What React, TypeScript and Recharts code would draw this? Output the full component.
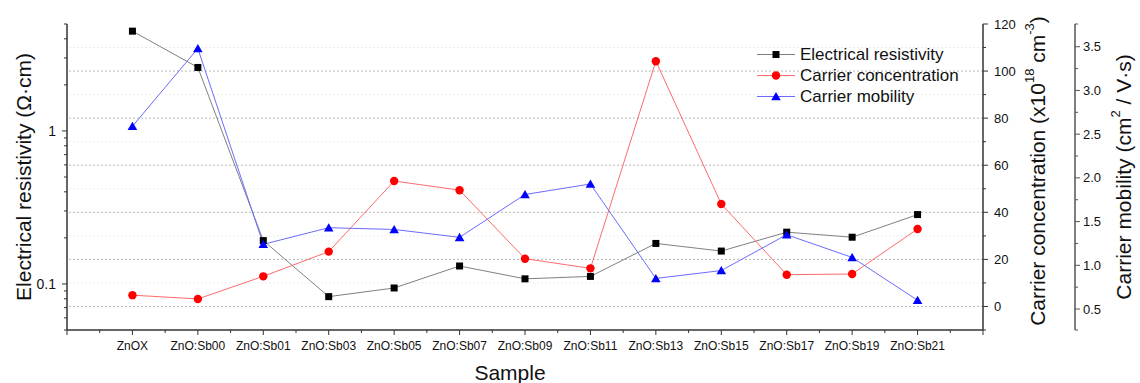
import React from 'react';
import { LineChart, Line, XAxis, YAxis, ReferenceLine, Legend } from 'recharts';

const SAMPLES = [
  'ZnOX', 'ZnO:Sb00', 'ZnO:Sb01', 'ZnO:Sb03', 'ZnO:Sb05', 'ZnO:Sb07', 'ZnO:Sb09',
  'ZnO:Sb11', 'ZnO:Sb13', 'ZnO:Sb15', 'ZnO:Sb17', 'ZnO:Sb19', 'ZnO:Sb21',
];
// resistivity in Ω·cm, concentration in 1e18 cm^-3, mobility in cm²/V·s
const RESISTIVITY = [4.49, 2.6, 0.192, 0.0826, 0.0941, 0.131, 0.108, 0.112, 0.184, 0.164, 0.218, 0.202, 0.284];
const CONCENTRATION = [4.8, 3.2, 12.8, 23.3, 53.3, 49.4, 20.3, 16.2, 104.2, 43.5, 13.5, 13.8, 32.9];
const MOBILITY = [2.59, 3.48, 1.24, 1.43, 1.41, 1.32, 1.81, 1.93, 0.85, 0.94, 1.35, 1.09, 0.6];

const RHO_TICKS = [0.05, 0.06, 0.07, 0.08, 0.09, 0.1, 0.2, 0.3, 0.4, 0.5, 0.6, 0.7, 0.8, 0.9, 1, 2, 3, 4, 5];
const RHO_LABELS = [0.1, 1];
const CONC_TICKS = [-10, 0, 10, 20, 30, 40, 50, 60, 70, 80, 90, 100, 110, 120];
const CONC_LABELS = [0, 20, 40, 60, 80, 100, 120];
const MOB_TICKS = [0.26, 0.5, 0.75, 1, 1.25, 1.5, 1.75, 2, 2.25, 2.5, 2.75, 3, 3.25, 3.5, 3.76];
const MOB_LABELS = [0.5, 1, 1.5, 2, 2.5, 3, 3.5];
const GRID_MAJOR = [0, 20, 40, 60, 80, 100];
const GRID_MINOR = [10, 30, 50, 70, 90, 110];

const FONT = 'Arial, "Liberation Sans", sans-serif';
const AXIS = '#333';

const SERIES = [
  { name: 'Electrical resistivity', key: 'rho', axis: 'rho', shape: 'square', mark: '#000000', line: '#808080' },
  { name: 'Carrier concentration', key: 'conc', axis: 'conc', shape: 'circle', mark: '#ff0000', line: '#ff6b6b' },
  { name: 'Carrier mobility', key: 'mob', axis: 'mob', shape: 'triangle', mark: '#0000ff', line: '#6b6bff' },
];

const data = SAMPLES.map((name, i) => ({
  idx: i,
  name,
  rho: RESISTIVITY[i],
  conc: CONCENTRATION[i],
  mob: MOBILITY[i],
}));

// half-category ticks along the sample axis, one empty slot at each end
const X_TICKS: number[] = [];
for (let t = -1; t <= SAMPLES.length; t += 0.5) X_TICKS.push(t);

const Marker = ({ shape, cx, cy, color }: { shape: string; cx: number; cy: number; color: string }) => {
  if (shape === 'square') return <rect x={cx - 3.5} y={cy - 3.5} width={7} height={7} fill={color} />;
  if (shape === 'circle') return <circle cx={cx} cy={cy} r={4.2} fill={color} />;
  return <polygon points={`${cx},${cy - 4.5} ${cx - 4.8},${cy + 3.8} ${cx + 4.8},${cy + 3.8}`} fill={color} />;
};

const SampleTick = ({ x, y, payload }: any) => {
  const v = payload.value;
  const major = Number.isInteger(v);
  const name = major ? SAMPLES[v] : undefined;
  return (
    <g>
      <line x1={x} x2={x} y1={y} y2={y + (major ? 5 : 3)} stroke={AXIS} strokeWidth={1} />
      {name && (
        <text x={x} y={y + 16} textAnchor="middle" dominantBaseline="central" fontSize={12} fontFamily={FONT} fill="#111">
          {name}
        </text>
      )}
    </g>
  );
};

const RhoTick = ({ x, y, payload }: any) => {
  const v = payload.value;
  const major = RHO_LABELS.includes(v);
  return (
    <g>
      <line x1={x} x2={x - (major ? 5 : 3)} y1={y} y2={y} stroke={AXIS} strokeWidth={1} />
      {major && (
        <text x={x - 11} y={y} textAnchor="end" dominantBaseline="central" fontSize={14} fontFamily={FONT} fill="#111">
          {String(v)}
        </text>
      )}
    </g>
  );
};

const ConcTick = ({ x, y, payload }: any) => {
  const v = payload.value;
  const major = CONC_LABELS.includes(v);
  return (
    <g>
      <line x1={x} x2={x + (major ? 5 : 3)} y1={y} y2={y} stroke={AXIS} strokeWidth={1} />
      {major && (
        <text x={x + 11} y={y} textAnchor="start" dominantBaseline="central" fontSize={13} fontFamily={FONT} fill="#111">
          {String(v)}
        </text>
      )}
    </g>
  );
};

const MobTick = ({ x, y, payload }: any) => {
  const v = payload.value;
  const major = MOB_LABELS.includes(v);
  return (
    <g>
      <line x1={x} x2={x + (major ? 5 : 3)} y1={y} y2={y} stroke="#555" strokeWidth={1} />
      {major && (
        <text x={x + 8} y={y} textAnchor="start" dominantBaseline="central" fontSize={13} fontFamily={FONT} fill="#111">
          {v.toFixed(1)}
        </text>
      )}
    </g>
  );
};

const titleProps = { fontSize: 21, fontFamily: FONT, fill: '#111', textAnchor: 'middle' as const, dominantBaseline: 'central' as const };

const SampleTitle = ({ viewBox }: any) => (
  <text x={viewBox.x + viewBox.width / 2 - 15} y={viewBox.y + 42} {...titleProps}>
    Sample
  </text>
);

const RhoTitle = ({ viewBox }: any) => {
  const cx = viewBox.x + 23;
  const cy = viewBox.y + viewBox.height / 2;
  return (
    <text x={cx} y={cy} transform={`rotate(-90 ${cx} ${cy})`} {...titleProps}>
      Electrical resistivity (Ω·cm)
    </text>
  );
};

const ConcTitle = ({ viewBox }: any) => {
  const cx = viewBox.x + 54;
  const cy = viewBox.y + viewBox.height / 2 - 6;
  return (
    <text x={cx} y={cy} transform={`rotate(-90 ${cx} ${cy})`} {...titleProps}>
      Carrier concentration (x10
      <tspan dy={-8} fontSize={13}>18</tspan>
      <tspan dy={8}> cm</tspan>
      <tspan dy={-8} fontSize={13}>-3</tspan>
      <tspan dy={8}>)</tspan>
    </text>
  );
};

const MobTitle = ({ viewBox }: any) => {
  const cx = viewBox.x + 48;
  const cy = viewBox.y + viewBox.height / 2;
  return (
    <text x={cx} y={cy} transform={`rotate(-90 ${cx} ${cy})`} {...titleProps}>
      Carrier mobility (cm
      <tspan dy={-8} fontSize={13}>2</tspan>
      <tspan dy={8}> / V·s)</tspan>
    </text>
  );
};

const LegendBox = () => (
  <div style={{ fontFamily: FONT, fontSize: 17, color: '#111' }}>
    {SERIES.map((s) => (
      <div key={s.key} style={{ display: 'flex', alignItems: 'center', height: 21 }}>
        <svg width={43} height={21} style={{ display: 'block' }}>
          <line x1={0} x2={38} y1={10.5} y2={10.5} stroke={s.line} strokeWidth={1} />
          <Marker shape={s.shape} cx={19} cy={10.5} color={s.mark} />
        </svg>
        <span style={{ whiteSpace: 'nowrap' }}>{s.name}</span>
      </div>
    ))}
  </div>
);

export default function App() {
  return (
    <div style={{ position: 'absolute', left: 0, top: 0, width: 1140, height: 383, background: '#fff' }}>
      <LineChart width={1140} height={383} data={data} margin={{ top: 24, right: 0, bottom: 0, left: 0 }}>
        <XAxis
          dataKey="idx"
          type="number"
          domain={[-1, SAMPLES.length]}
          ticks={X_TICKS}
          interval={0}
          allowDataOverflow
          height={53}
          tickSize={0}
          tickMargin={0}
          tickLine={false}
          tick={<SampleTick />}
          axisLine={{ stroke: AXIS, strokeWidth: 1.5 }}
          label={SampleTitle}
        />
        <YAxis
          yAxisId="rho"
          orientation="left"
          scale="log"
          domain={[0.05, 5]}
          ticks={RHO_TICKS}
          interval={0}
          allowDataOverflow
          width={67}
          tickSize={0}
          tickMargin={0}
          tickLine={false}
          tick={<RhoTick />}
          axisLine={{ stroke: AXIS, strokeWidth: 1.5 }}
          label={RhoTitle}
        />
        <YAxis
          yAxisId="conc"
          orientation="right"
          domain={[-10, 120]}
          ticks={CONC_TICKS}
          interval={0}
          allowDataOverflow
          width={92}
          tickSize={0}
          tickMargin={0}
          tickLine={false}
          tick={<ConcTick />}
          axisLine={{ stroke: AXIS, strokeWidth: 1.5 }}
          label={ConcTitle}
        />
        <YAxis
          yAxisId="mob"
          orientation="right"
          domain={[0.26, 3.76]}
          ticks={MOB_TICKS}
          interval={0}
          allowDataOverflow
          width={65}
          tickSize={0}
          tickMargin={0}
          tickLine={false}
          tick={<MobTick />}
          axisLine={{ stroke: '#555', strokeWidth: 1.5 }}
          label={MobTitle}
        />

        {GRID_MINOR.map((v) => (
          <ReferenceLine key={`gm-${v}`} yAxisId="conc" y={v} stroke="#ececec" strokeDasharray="2 2" />
        ))}
        {GRID_MAJOR.map((v) => (
          <ReferenceLine key={`gM-${v}`} yAxisId="conc" y={v} stroke="#b8b8b8" strokeDasharray="2 2" />
        ))}

        {SERIES.map((s) => (
          <Line
            key={s.key}
            yAxisId={s.axis}
            dataKey={s.key}
            name={s.name}
            type="linear"
            stroke={s.line}
            strokeWidth={1}
            isAnimationActive={false}
            activeDot={false}
            dot={(p: any) => <Marker key={`${s.key}-${p.index}`} shape={s.shape} cx={p.cx} cy={p.cy} color={s.mark} />}
          />
        ))}

        <Legend
          layout="vertical"
          align="center"
          verticalAlign="middle"
          content={<LegendBox />}
          wrapperStyle={{ left: 757, top: 44, width: 'auto', height: 'auto' }}
        />
      </LineChart>
    </div>
  );
}
